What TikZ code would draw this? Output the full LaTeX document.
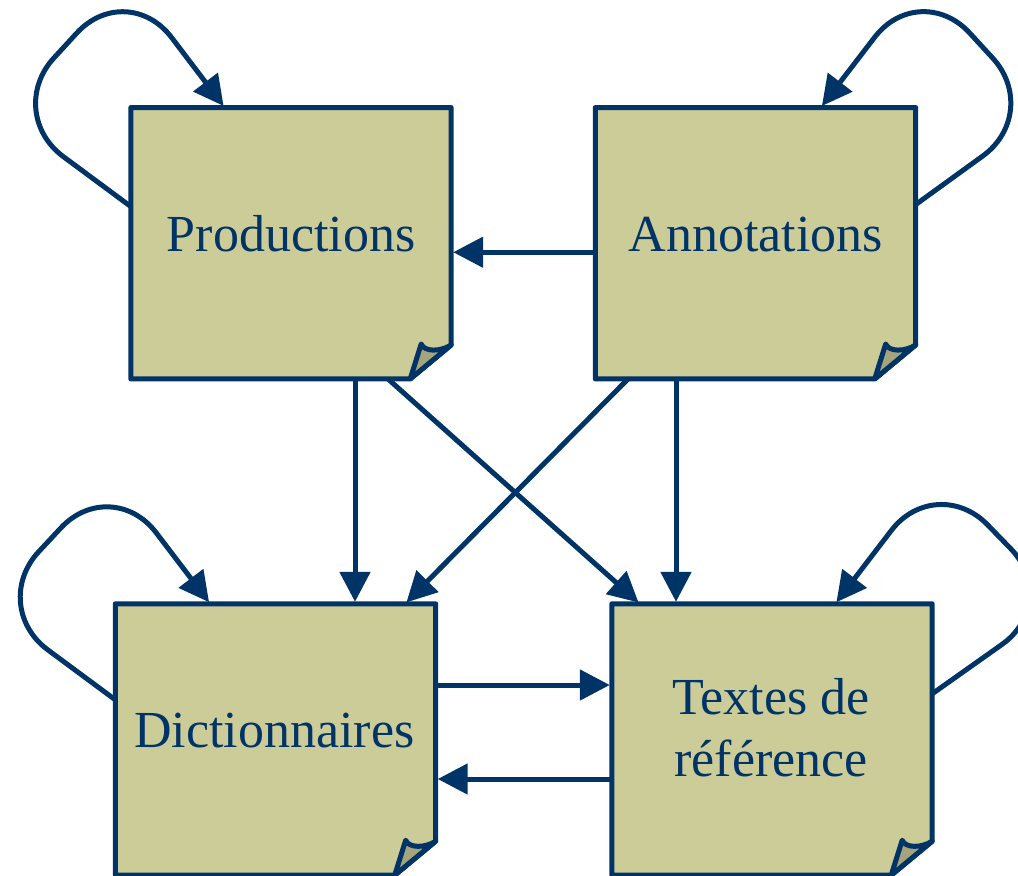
\documentclass[tikz,border=0pt]{standalone}
\usepackage{fontspec}
\setmainfont{Liberation Serif}
\usetikzlibrary{arrows.meta}
\definecolor{navy}{HTML}{003366}
\definecolor{khaki}{HTML}{CCCC99}
\definecolor{flapc}{HTML}{A6A47A}
\newcommand\drawnote[1]{%
  \path[notefill] (#1.north west) -- (#1.north east) -- ([yshift=34]#1.south east) -- ([xshift=-41]#1.south east) -- (#1.south west) -- cycle;
  \path[flapfill] ([shift={(-30,35)}]#1.south east) .. controls ([shift={(-27,27)}]#1.south east) and ([shift={(-11,27)}]#1.south east) .. ([yshift=34]#1.south east) -- ([xshift=-41]#1.south east) -- cycle;
}
\begin{document}
\begin{tikzpicture}[x=1pt,y=1pt,
  anchorbox/.style={rectangle, minimum width=320pt, minimum height=271pt, inner sep=0pt, draw=none},
  notefill/.style={fill=khaki, draw=navy, line width=5pt, line join=round},
  flapfill/.style={fill=flapc, draw=navy, line width=5pt, line join=round},
  conn/.style={draw=navy, line width=5pt, -{Triangle[length=30pt,width=30pt]}, shorten >=2pt},
  selfloop/.style={conn, rounded corners=74pt},
  boxtext/.style={text=navy, font=\fontsize{52}{62}\selectfont, inner sep=0pt, align=center}
]
\useasboundingbox (0,0) rectangle (1018,-876);

\node[anchorbox] (P) at (291,-243.25) {};
\node[anchorbox] (A) at (755.5,-243.25) {};
\node[anchorbox] (D) at (275.5,-739.5) {};
\node[anchorbox] (T) at (772,-739.5) {};

% straight connectors
\draw[conn] ([yshift=-9]A.west) -- ([yshift=-9]P.east);
\draw[conn] ([xshift=64]P.south) -- ([xshift=64]P.south |- D.north);
\draw[conn] ([xshift=-79.5]A.south) -- ([xshift=-79.5]A.south |- T.north);
\draw[conn] ([xshift=97]P.south) -- ([xshift=-132]T.north);
\draw[conn] ([xshift=-127.5]A.south) -- ([xshift=129.5]D.north);
\draw[conn] ([yshift=54.5]D.east) -- ([yshift=54.5]D.east -| T.west);
\draw[conn] ([yshift=-39.5]T.west) -- ([yshift=-39.5]T.west -| D.east);

% self loops
\draw[selfloop] ([shift={(0,-99)}]P.north west) -- ([shift={(-127,-5)}]P.north west) -- ([shift={(-4,129)}]P.north west) -- ([shift={(94,0)}]P.north west);
\draw[selfloop] ([shift={(0,-96)}]D.north west) -- ([shift={(-127,-2)}]D.north west) -- ([shift={(-4,130)}]D.north west) -- ([shift={(95,0)}]D.north west);
\draw[selfloop] ([shift={(0,-97)}]A.north east) -- ([shift={(127,-5)}]A.north east) -- ([shift={(4,129)}]A.north east) -- ([shift={(-95,0)}]A.north east);
\draw[selfloop] ([shift={(0,-90)}]T.north east) -- ([shift={(130,2)}]T.north east) -- ([shift={(4,132)}]T.north east) -- ([shift={(-97,0)}]T.north east);

% notes
\drawnote{P}
\drawnote{A}
\drawnote{D}
\drawnote{T}

\node[boxtext, anchor=base] (Pt) at (291,-251) {Productions};
\node[boxtext, anchor=base] (At) at (756,-251) {Annotations};
\node[boxtext, anchor=base] (Dt) at (274.5,-747.5) {Dictionnaires};
\node[boxtext] (Tt) at (771,-728) {Textes de\\référence};
\end{tikzpicture}
\end{document}
